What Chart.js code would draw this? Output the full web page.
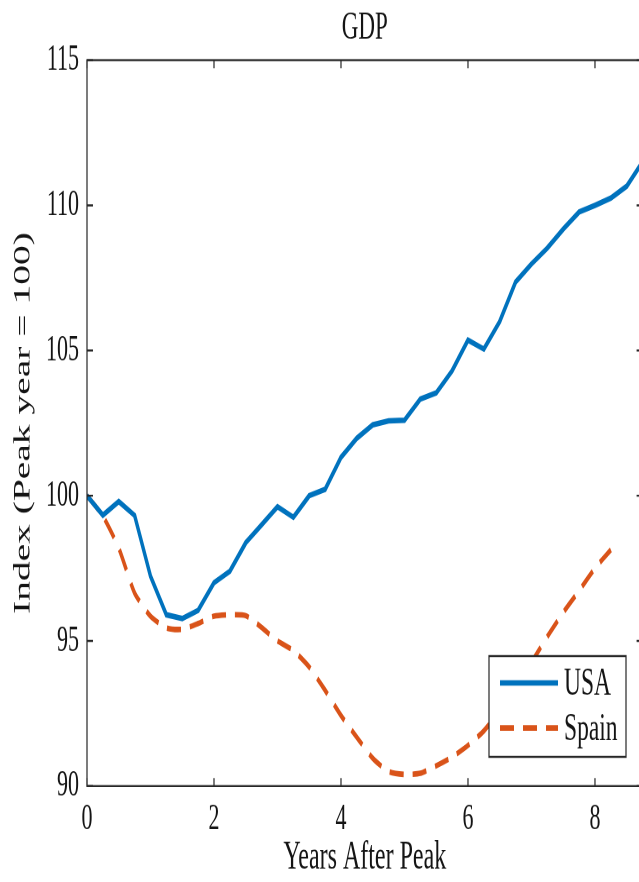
<!DOCTYPE html>
<html>
<head>
<meta charset="utf-8">
<script src="https://cdn.jsdelivr.net/npm/chart.js@4.4.1/dist/chart.umd.min.js"></script>
<style>
    html, body { margin: 0; padding: 0; overflow: hidden; background: #fff; }
</style>
</head>
<body>
<!-- drawn at 650x525 and stretched to 650x882, like the tall source figure -->
<canvas id="gdp-chart" width="650" height="525" style="width:650px;height:882px"></canvas>
<script>
// Quarters after the peak year
const years = [0, 0.25, 0.5, 0.75, 1, 1.25, 1.5, 1.75, 2, 2.25, 2.5, 2.75, 3, 3.25, 3.5, 3.75,
    4, 4.25, 4.5, 4.75, 5, 5.25, 5.5, 5.75, 6, 6.25, 6.5, 6.75, 7, 7.25, 7.5, 7.75,
    8, 8.25, 8.5, 8.75];

const usaGdp = [100, 99.33, 99.8, 99.32, 97.23, 95.9, 95.77, 96.05, 97.0, 97.4, 98.38, 99.0,
    99.62, 99.26, 100.0, 100.22, 101.32, 101.98, 102.44, 102.58, 102.6, 103.33, 103.54, 104.3,
    105.36, 105.05, 106.0, 107.36, 107.98, 108.53, 109.18, 109.77, 110.0, 110.25, 110.66, 111.5];

const spainGdp = [100, 99.3, 98.2, 96.65, 95.85, 95.45, 95.4, 95.6, 95.85, 95.9, 95.87, 95.46,
    95.0, 94.67, 94.1, 93.3, 92.43, 91.68, 90.96, 90.5, 90.4, 90.44, 90.7, 91.0,
    91.4, 91.9, 92.6, 93.4, 94.26, 95.15, 95.98, 96.73, 97.5, 98.14];

const xTickStep = 2;
const yTicks = [90, 95, 100, 105, 110, 115];

const fontFamily = "'Liberation Serif', 'DejaVu Serif', serif";
const axisColor = '#262626';
const textColor = '#141414';

function toPoints(values) {
    return values.map((v, i) => ({ x: years[i], y: v }));
}

// Box around the axes with inward tick marks (MATLAB style)
const frameTicks = {
    id: 'frameTicks',
    afterDatasetsDraw(chart) {
        const { ctx, chartArea: a, scales } = chart;
        ctx.save();
        ctx.strokeStyle = axisColor;
        ctx.lineWidth = 1.2;
        ctx.strokeRect(a.left, a.top, a.right - a.left, a.bottom - a.top);
        ctx.beginPath();
        scales.x.ticks.forEach((t, i) => {
            const px = scales.x.getPixelForTick(i);
            ctx.moveTo(px, a.bottom);
            ctx.lineTo(px, a.bottom - 4.8);
            ctx.moveTo(px, a.top);
            ctx.lineTo(px, a.top + 4.8);
        });
        scales.y.ticks.forEach((t, i) => {
            const py = scales.y.getPixelForTick(i);
            ctx.moveTo(a.left, py);
            ctx.lineTo(a.left + 6, py);
            ctx.moveTo(a.right, py);
            ctx.lineTo(a.right - 6, py);
        });
        ctx.stroke();
        ctx.restore();
    }
};

// Boxed legend in the lower right of the plot
const boxedLegend = {
    id: 'boxedLegend',
    afterDraw(chart) {
        const { ctx } = chart;
        const box = { left: 489, top: 390.5, width: 137, height: 60 };
        ctx.save();
        ctx.fillStyle = '#fff';
        ctx.fillRect(box.left, box.top, box.width, box.height);
        ctx.strokeStyle = axisColor;
        ctx.lineWidth = 1.2;
        ctx.strokeRect(box.left, box.top, box.width, box.height);

        chart.data.datasets.forEach((ds, i) => {
            const rowY = box.top + 16 + i * 26.8;
            ctx.strokeStyle = ds.borderColor;
            ctx.lineWidth = ds.borderWidth;
            ctx.setLineDash(ds.borderDash || []);
            ctx.beginPath();
            ctx.moveTo(box.left + 11, rowY);
            ctx.lineTo(box.left + 69, rowY);
            ctx.stroke();
            ctx.setLineDash([]);
            ctx.fillStyle = textColor;
            ctx.font = `23.5px ${fontFamily}`;
            ctx.textBaseline = 'middle';
            ctx.textAlign = 'left';
            ctx.fillText(ds.label, box.left + 75, rowY + 1);
        });
        ctx.restore();
    }
};

new Chart(document.getElementById('gdp-chart'), {
    type: 'line',
    data: {
        datasets: [{
            label: 'USA',
            data: toPoints(usaGdp),
            borderColor: '#0072BD',
            borderWidth: 3.3,
            pointRadius: 0,
            tension: 0,
            fill: false
        }, {
            label: 'Spain',
            data: toPoints(spainGdp),
            borderColor: '#D95319',
            borderWidth: 3.3,
            borderDash: [14, 9],
            pointRadius: 0,
            tension: 0.2,
            fill: false
        }]
    },
    options: {
        responsive: false,
        animation: false,
        devicePixelRatio: 2,
        layout: { padding: { left: 0, right: 7.4, top: 0, bottom: 0 } },
        scales: {
            x: {
                type: 'linear',
                min: 0,
                max: 8.75,
                grid: { display: false, drawTicks: false },
                border: { display: false },
                ticks: {
                    stepSize: xTickStep,
                    includeBounds: false,
                    padding: 6.5,
                    color: textColor,
                    font: { family: fontFamily, size: 22 }
                },
                title: {
                    display: true,
                    text: 'Years After Peak',
                    color: textColor,
                    padding: { top: 0, bottom: 0 },
                    font: { family: fontFamily, size: 24 }
                },
                afterFit(scale) { scale.height = 57.1; }
            },
            y: {
                min: yTicks[0],
                max: yTicks[yTicks.length - 1],
                grid: { display: false, drawTicks: false },
                border: { display: false },
                ticks: {
                    stepSize: yTicks[1] - yTicks[0],
                    padding: 8,
                    color: textColor,
                    font: { family: fontFamily, size: 22 }
                },
                title: {
                    display: true,
                    text: 'Index (Peak year = 100)',
                    color: textColor,
                    padding: { top: 9, bottom: 0 },
                    font: { family: fontFamily, size: 23.5 }
                },
                afterFit(scale) { scale.width = 87; }
            }
        },
        plugins: {
            legend: { display: false },
            tooltip: { enabled: false },
            title: {
                display: true,
                text: 'GDP',
                color: textColor,
                fullSize: false,
                padding: { top: 3, bottom: 5.2 },
                font: { family: fontFamily, size: 23, weight: 'normal' }
            }
        }
    },
    plugins: [frameTicks, boxedLegend]
});
</script>
</body>
</html>
